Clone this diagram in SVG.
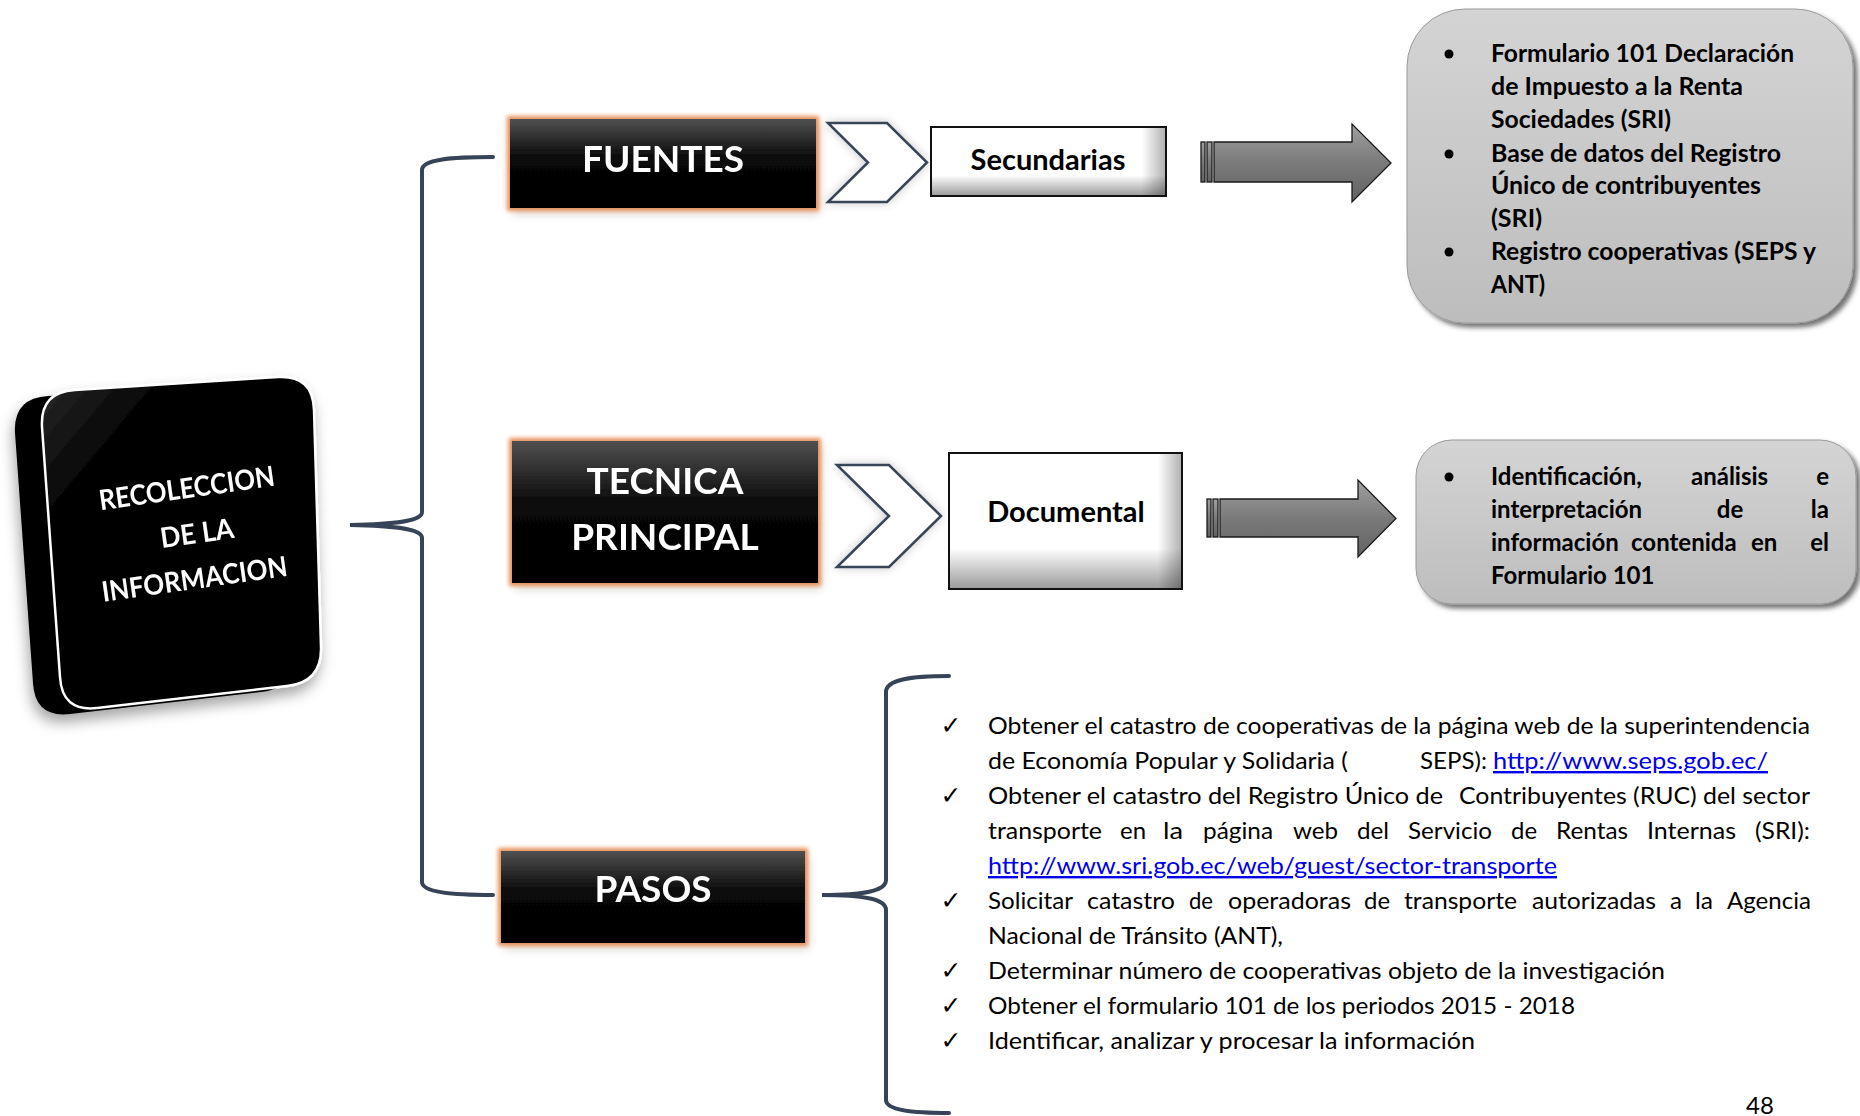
<svg xmlns="http://www.w3.org/2000/svg" width="1860" height="1116" viewBox="0 0 1860 1116">
<style>
.brace{fill:none;stroke:#374457;stroke-width:4;stroke-linecap:round}
.bt{font-family:Lato,"Open Sans","Liberation Sans",sans-serif;font-weight:700;font-size:37px;fill:#fff;text-anchor:middle}
.wt{font-family:Lato,"Open Sans","Liberation Sans",sans-serif;font-weight:700;font-size:29px;fill:#000;text-anchor:middle}
.gt{font-family:Lato,"Open Sans","Liberation Sans",sans-serif;font-weight:700;font-size:24px;fill:#000}
.lt{font-family:Lato,"Open Sans","Liberation Sans",sans-serif;font-size:24px;fill:#000}
.lk{fill:#0000ee;text-decoration:underline}
.ck{font-family:"DejaVu Sans",sans-serif;font-size:25px;fill:#000;text-anchor:middle}
.rt{font-family:Lato,"Open Sans","Liberation Sans",sans-serif;font-weight:700;font-size:28px;fill:#fff;text-anchor:middle}
.chev{fill:#fff;stroke:#374457;stroke-width:2.5;stroke-linejoin:miter}
.arr{fill:url(#arrg);stroke:#1a1a1a;stroke-width:1.3}
</style>
<defs>
<linearGradient id="blk" x1="0" y1="0" x2="0" y2="1">
<stop offset="0" stop-color="#505050"/><stop offset="0.45" stop-color="#080808"/><stop offset="1" stop-color="#000"/>
</linearGradient>
<linearGradient id="wht" x1="0" y1="0" x2="0" y2="1">
<stop offset="0" stop-color="#fff"/><stop offset="0.7" stop-color="#fff"/><stop offset="1" stop-color="#9a9a9a"/>
</linearGradient>
<linearGradient id="whr" x1="0" y1="0" x2="1" y2="0">
<stop offset="0.9" stop-color="#000" stop-opacity="0"/><stop offset="1" stop-color="#000" stop-opacity="0.3"/>
</linearGradient>
<linearGradient id="gry" x1="0" y1="0" x2="0" y2="1">
<stop offset="0" stop-color="#d4d4d4"/><stop offset="1" stop-color="#bdbdbd"/>
</linearGradient>
<linearGradient id="arrg" x1="0" y1="0" x2="0" y2="1">
<stop offset="0" stop-color="#a0a0a0"/><stop offset="0.5" stop-color="#7a7a7a"/><stop offset="1" stop-color="#626262"/>
</linearGradient>
<linearGradient id="face" x1="0" y1="0" x2="1" y2="1">
<stop offset="0" stop-color="#2a2a2a"/><stop offset="0.25" stop-color="#000"/><stop offset="1" stop-color="#000"/>
</linearGradient>
<filter id="glow" x="-10%" y="-20%" width="125%" height="150%">
<feMorphology in="SourceAlpha" operator="dilate" radius="3" result="d"/>
<feGaussianBlur in="d" stdDeviation="2.2" result="b"/>
<feFlood flood-color="#e58f58"/>
<feComposite in2="b" operator="in" result="g"/>
<feGaussianBlur in="SourceAlpha" stdDeviation="5" result="s"/>
<feOffset in="s" dx="3" dy="5" result="so"/>
<feFlood flood-color="#000" flood-opacity="0.25"/>
<feComposite in2="so" operator="in" result="sh"/>
<feMerge><feMergeNode in="sh"/><feMergeNode in="g"/><feMergeNode in="SourceGraphic"/></feMerge>
</filter>
<filter id="soft" x="-20%" y="-20%" width="140%" height="140%">
<feGaussianBlur in="SourceAlpha" stdDeviation="5" result="s"/>
<feFlood flood-color="#000" flood-opacity="0.22"/>
<feComposite in2="s" operator="in" result="sh"/>
<feMerge><feMergeNode in="sh"/><feMergeNode in="SourceGraphic"/></feMerge>
</filter>
<filter id="gsh" x="-5%" y="-5%" width="112%" height="115%">
<feGaussianBlur in="SourceAlpha" stdDeviation="2.5" result="s"/>
<feOffset in="s" dx="4" dy="4" result="so"/>
<feFlood flood-color="#000" flood-opacity="0.55"/>
<feComposite in2="so" operator="in" result="sh"/>
<feMerge><feMergeNode in="sh"/><feMergeNode in="SourceGraphic"/></feMerge>
</filter>
<filter id="nsh" x="-20%" y="-20%" width="140%" height="140%">
<feGaussianBlur in="SourceAlpha" stdDeviation="7" result="s"/>
<feOffset in="s" dx="-2" dy="8" result="so"/>
<feFlood flood-color="#000" flood-opacity="0.35"/>
<feComposite in2="so" operator="in" result="sh"/>
<feMerge><feMergeNode in="sh"/><feMergeNode in="SourceGraphic"/></feMerge>
</filter>
</defs>
<rect width="1860" height="1116" fill="#fff"/>

<g id="connectors">
<path class="brace" d="M493,157 C452,157 422,159 422,170 L422,512 C422,521 398,524 350,525 C398,526 422,529 422,538 L422,882 C422,892 452,895 493,895"/>
<path class="brace" d="M949,676 C912,676 886,679 886,692 L886,880 C886,890 868,895 822,895 C868,895 886,900 886,910 L886,1100 C886,1110 912,1113 949,1113"/>
<g id="chev1" filter="url(#soft)"><polygon class="chev" points="828,123 887,123 927,162.5 887,202 828,202 868,162.5"/></g>
<g id="chev2" filter="url(#soft)"><polygon class="chev" points="837,465 889,465 941,516 889,567 837,567 889,516"/></g>
<g id="arrow1">
<rect class="arr" x="1201" y="142" width="4" height="40"/>
<rect class="arr" x="1207" y="142" width="5" height="40"/>
<path class="arr" d="M1214,142 L1352,142 L1352,124 L1391,163 L1352,202 L1352,182 L1214,182 Z"/>
</g>
<g id="arrow2">
<rect class="arr" x="1207" y="499" width="4" height="38"/>
<rect class="arr" x="1213" y="499" width="5" height="38"/>
<path class="arr" d="M1220,499 L1358,499 L1358,480 L1396,518.5 L1358,557 L1358,537 L1220,537 Z"/>
</g>
</g>

<g id="recoleccion" filter="url(#nsh)">
<path fill="#000" d="M48,396 L251,383 Q286,381 287,416 L295,653 Q296,688 261,692 L70,714 Q35,718 33,683 L15,433 Q13,398 48,396 Z"/>
<path fill="url(#face)" stroke="#fff" stroke-width="2.5" d="M75,390 L278,377 Q313,375 314,410 L321,647 Q322,682 287,686 L97,708 Q62,712 60,677 L42,427 Q40,392 75,390 Z"/>
<g transform="rotate(-8 190 533)">
<text class="rt" x="193" y="498" textLength="177" lengthAdjust="spacingAndGlyphs">RECOLECCION</text>
<text class="rt" x="197" y="544" textLength="74" lengthAdjust="spacingAndGlyphs">DE LA</text>
<text class="rt" x="188" y="589" textLength="187" lengthAdjust="spacingAndGlyphs">INFORMACION</text>
</g>
</g>

<g id="fuentes" filter="url(#glow)">
<rect x="510" y="119" width="306" height="89" fill="url(#blk)"/>
<text class="bt" x="663" y="172">FUENTES</text>
</g>
<g id="tecnica" filter="url(#glow)">
<rect x="512" y="441" width="306" height="142" fill="url(#blk)"/>
<text class="bt" x="665" y="494">TECNICA</text>
<text class="bt" x="665" y="550">PRINCIPAL</text>
</g>
<g id="pasos" filter="url(#glow)">
<rect x="501" y="851" width="304" height="92" fill="url(#blk)"/>
<text class="bt" x="653" y="902">PASOS</text>
</g>

<g id="secundarias">
<rect x="931" y="127" width="235" height="69" fill="url(#wht)" stroke="#111" stroke-width="2"/>
<rect x="932" y="128" width="233" height="67" fill="url(#whr)"/>
<text class="wt" x="1048" y="170">Secundarias</text>
</g>
<g id="documental">
<rect x="949" y="453" width="233" height="136" fill="url(#wht)" stroke="#111" stroke-width="2"/>
<rect x="950" y="454" width="231" height="134" fill="url(#whr)"/>
<text class="wt" x="1066" y="522">Documental</text>
</g>

<g id="fuentes-list">
<rect x="1407" y="9" width="446" height="314" rx="58" fill="url(#gry)" stroke="#9a9a9a" stroke-width="1" filter="url(#gsh)"/>
<circle cx="1449" cy="54" r="4.5"/>
<circle cx="1449" cy="154" r="4.5"/>
<circle cx="1449" cy="252" r="4.5"/>
<text class="gt" x="1491" y="62" textLength="303" lengthAdjust="spacingAndGlyphs">Formulario 101 Declaración</text>
<text class="gt" x="1491" y="95" textLength="252" lengthAdjust="spacingAndGlyphs">de Impuesto a la Renta</text>
<text class="gt" x="1491" y="128" textLength="180" lengthAdjust="spacingAndGlyphs">Sociedades (SRI)</text>
<text class="gt" x="1491" y="162" textLength="290" lengthAdjust="spacingAndGlyphs">Base de datos del Registro</text>
<text class="gt" x="1491" y="194" textLength="270" lengthAdjust="spacingAndGlyphs">Único de contribuyentes</text>
<text class="gt" x="1491" y="227" textLength="51" lengthAdjust="spacingAndGlyphs">(SRI)</text>
<text class="gt" x="1491" y="260" textLength="325" lengthAdjust="spacingAndGlyphs">Registro cooperativas (SEPS y</text>
<text class="gt" x="1491" y="293" textLength="54" lengthAdjust="spacingAndGlyphs">ANT)</text>
</g>

<g id="tecnica-list">
<rect x="1416" y="440" width="440" height="164" rx="36" fill="url(#gry)" stroke="#9a9a9a" stroke-width="1" filter="url(#gsh)"/>
<circle cx="1449" cy="477" r="4.5"/>
<text class="gt" x="1491" y="485">Identificación,</text>
<text class="gt" x="1691" y="485">análisis</text>
<text class="gt" x="1829" y="485" text-anchor="end">e</text>
<text class="gt" x="1491" y="518">interpretación</text>
<text class="gt" x="1730" y="518" text-anchor="middle">de</text>
<text class="gt" x="1829" y="518" text-anchor="end">la</text>
<text class="gt" x="1491" y="551">información</text>
<text class="gt" x="1631" y="551">contenida</text>
<text class="gt" x="1751" y="551">en</text>
<text class="gt" x="1829" y="551" text-anchor="end">el</text>
<text class="gt" x="1491" y="584">Formulario 101</text>
</g>

<g id="pasos-list">
<text class="ck" x="951" y="734">✓</text>
<text class="ck" x="951" y="804">✓</text>
<text class="ck" x="951" y="909">✓</text>
<text class="ck" x="951" y="979">✓</text>
<text class="ck" x="951" y="1014">✓</text>
<text class="ck" x="951" y="1049">✓</text>
<text class="lt" x="988" y="734" textLength="822" lengthAdjust="spacingAndGlyphs">Obtener el catastro de cooperativas de la página web de la superintendencia</text>
<text class="lt" x="988" y="769" textLength="360" lengthAdjust="spacingAndGlyphs">de Economía Popular y Solidaria (</text>
<text class="lt" x="1420" y="769" textLength="67" lengthAdjust="spacingAndGlyphs">SEPS):</text>
<text class="lt lk" x="1493" y="769" textLength="275" lengthAdjust="spacingAndGlyphs">http://www.seps.gob.ec/</text>
<text class="lt" x="988" y="804" textLength="455" lengthAdjust="spacingAndGlyphs">Obtener el catastro del Registro Único de</text>
<text class="lt" x="1459" y="804" textLength="351" lengthAdjust="spacingAndGlyphs">Contribuyentes (RUC) del sector</text>
<text class="lt" x="988" y="839" textLength="114" lengthAdjust="spacingAndGlyphs">transporte</text>
<text class="lt" x="1120" y="839" textLength="26" lengthAdjust="spacingAndGlyphs">en</text>
<text class="lt" x="1163" y="839" textLength="20" lengthAdjust="spacingAndGlyphs">la</text>
<text class="lt" x="1203" y="839" textLength="70" lengthAdjust="spacingAndGlyphs">página</text>
<text class="lt" x="1293" y="839" textLength="45" lengthAdjust="spacingAndGlyphs">web</text>
<text class="lt" x="1357" y="839" textLength="32" lengthAdjust="spacingAndGlyphs">del</text>
<text class="lt" x="1408" y="839" textLength="84" lengthAdjust="spacingAndGlyphs">Servicio</text>
<text class="lt" x="1511" y="839" textLength="26" lengthAdjust="spacingAndGlyphs">de</text>
<text class="lt" x="1556" y="839" textLength="72" lengthAdjust="spacingAndGlyphs">Rentas</text>
<text class="lt" x="1647" y="839" textLength="89" lengthAdjust="spacingAndGlyphs">Internas</text>
<text class="lt" x="1755" y="839" textLength="55" lengthAdjust="spacingAndGlyphs">(SRI):</text>
<text class="lt lk" x="988" y="874" textLength="569" lengthAdjust="spacingAndGlyphs">http://www.sri.gob.ec/web/guest/sector-transporte</text>
<text class="lt" x="988" y="909" textLength="85" lengthAdjust="spacingAndGlyphs">Solicitar</text>
<text class="lt" x="1087" y="909" textLength="88" lengthAdjust="spacingAndGlyphs">catastro</text>
<text class="lt" x="1189" y="909" textLength="24" lengthAdjust="spacingAndGlyphs">de</text>
<text class="lt" x="1228" y="909" textLength="123" lengthAdjust="spacingAndGlyphs">operadoras</text>
<text class="lt" x="1364" y="909" textLength="26" lengthAdjust="spacingAndGlyphs">de</text>
<text class="lt" x="1404" y="909" textLength="113" lengthAdjust="spacingAndGlyphs">transporte</text>
<text class="lt" x="1532" y="909" textLength="124" lengthAdjust="spacingAndGlyphs">autorizadas</text>
<text class="lt" x="1670" y="909" textLength="12" lengthAdjust="spacingAndGlyphs">a</text>
<text class="lt" x="1695" y="909" textLength="18" lengthAdjust="spacingAndGlyphs">la</text>
<text class="lt" x="1727" y="909" textLength="84" lengthAdjust="spacingAndGlyphs">Agencia</text>
<text class="lt" x="988" y="944" textLength="295" lengthAdjust="spacingAndGlyphs">Nacional de Tránsito (ANT),</text>
<text class="lt" x="988" y="979" textLength="677" lengthAdjust="spacingAndGlyphs">Determinar número de cooperativas objeto de la investigación</text>
<text class="lt" x="988" y="1014" textLength="587" lengthAdjust="spacingAndGlyphs">Obtener el formulario 101 de los periodos 2015 - 2018</text>
<text class="lt" x="988" y="1049" textLength="487" lengthAdjust="spacingAndGlyphs">Identificar, analizar y procesar la información</text>
</g>

<text class="lt" x="1760" y="1114" text-anchor="middle" font-size="24">48</text>
</svg>
